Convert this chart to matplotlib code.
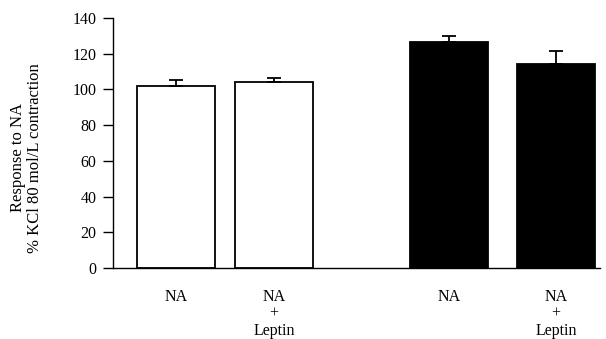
import matplotlib
matplotlib.use("Agg")
import matplotlib.pyplot as plt

categories = ["NA", "NA\n+\nLeptin", "NA", "NA\n+\nLeptin"]
values = [102, 104, 126.5, 114.5]
errors = [3.5, 2.5, 3.5, 7]
colors = ["white", "white", "black", "black"]
yticks = [0, 20, 40, 60, 80, 100, 120, 140]

positions = [0, 1, 2.79, 3.88]

plt.rcParams['font.family'] = ['Liberation Serif', 'DejaVu Serif']

fig = plt.figure(figsize=(6.06, 3.39), dpi=100)
ax = fig.add_axes([0.1865, 0.2094, 0.8035, 0.7376])

ax.bar(positions, values, width=0.8, color=colors, edgecolor="black", linewidth=1.3, zorder=2)
ax.errorbar(positions, values, yerr=[[0]*4, errors], fmt="none", ecolor="black",
            elinewidth=1.3, capsize=5, capthick=1.3, zorder=3)

ax.set_xlim(-0.643, 4.33)
ax.set_ylim(0, 140)
ax.set_yticks(yticks)
ax.set_xticks(positions)
ax.set_xticklabels(categories, fontsize=11.5, linespacing=1.08, va="top")
ax.tick_params(axis="x", length=0, pad=15)
ax.tick_params(axis="y", direction="out", length=7, width=1, labelsize=11.5, pad=5)

ax.spines["top"].set_visible(False)
ax.spines["right"].set_visible(False)
ax.spines["left"].set_linewidth(1.0)
ax.spines["bottom"].set_linewidth(1.0)

ax.set_ylabel("Response to NA\n% KCl 80 mol/L contraction", fontsize=12, linespacing=1.1)
ax.yaxis.set_label_coords(-0.143, 0.44)

fig.savefig("out.png", dpi=100)
